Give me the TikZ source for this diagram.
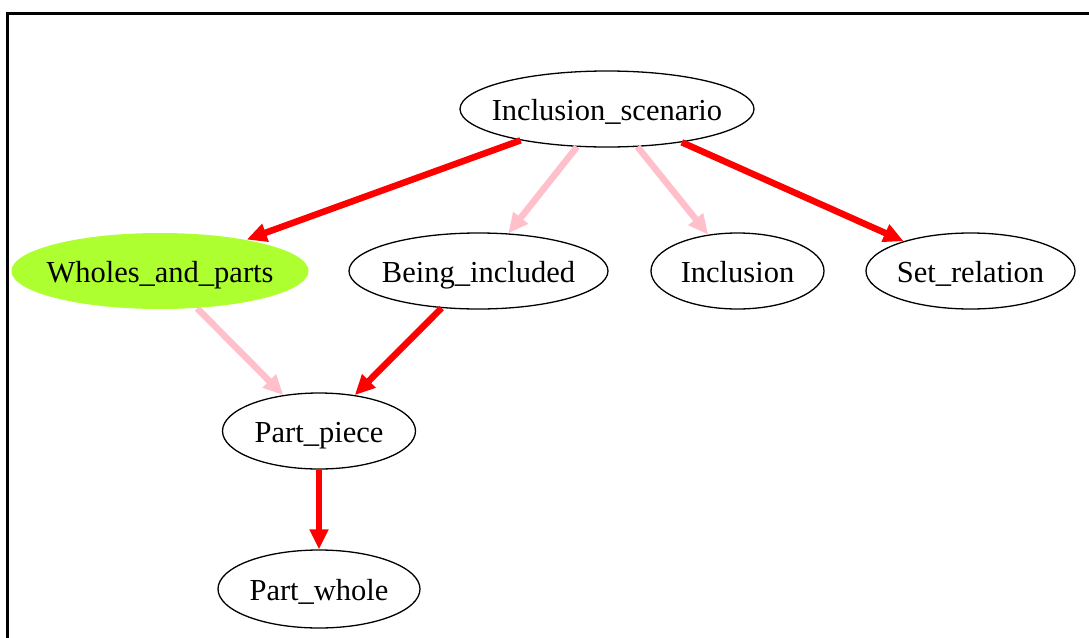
\documentclass[tikz,border=0pt]{standalone}
\usepackage{fontspec}
\setmainfont{Liberation Serif}
\usetikzlibrary{shapes.geometric,arrows.meta}
\definecolor{gyellow}{HTML}{ADFF2F}
\definecolor{lpink}{HTML}{FFC0CB}
\newcommand\nlab[1]{\raisebox{-11.5pt}[0pt][0pt]{\makebox[0pt][c]{#1}}}
\tikzset{
  nd/.style={ellipse, draw=black, line width=1.3pt, inner sep=0pt, font=\fontsize{30.5}{33}\selectfont},
  strong/.style={draw=red, line width=6.5pt, -{Triangle[length=20pt,width=18pt]}},
  weak/.style={draw=lpink, line width=6.5pt, -{Triangle[length=20pt,width=18pt]}},
}
\begin{document}
\begin{tikzpicture}[x=1pt,y=-1pt]
\useasboundingbox (0,0) rectangle (1089,637);
\fill[white] (0,0) rectangle (1089,637);
\draw[line width=2.2pt] (7.5,660) -- (7.5,13.5) -- (1100,13.5);
\node[nd, minimum width=294pt, minimum height=76pt] (scen) at (607,109) {\nlab{Inclusion\_scenario}};
\node[nd, draw=none, fill=gyellow, minimum width=297pt, minimum height=76pt] (whole) at (160,271) {\nlab{Wholes\_and\_parts}};
\node[nd, minimum width=259pt, minimum height=76pt] (being) at (478.5,271) {\nlab{Being\_included}};
\node[nd, minimum width=173pt, minimum height=76pt] (incl) at (737.5,271) {\nlab{Inclusion}};
\node[nd, minimum width=209pt, minimum height=76pt] (setr) at (970.5,271) {\nlab{Set\_relation}};
\node[nd, minimum width=193pt, minimum height=76pt] (piece) at (319,431) {\nlab{Part\_piece}};
\node[nd, minimum width=202pt, minimum height=78pt] (pw) at (319,589) {\nlab{Part\_whole}};
\draw[strong] (scen) -- (whole);
\draw[weak] (scen) -- (being);
\draw[weak] (scen) -- (incl);
\draw[strong] (scen) -- (setr);
\draw[weak] (whole) -- (piece);
\draw[strong] (being) -- (piece);
\draw[strong] (piece) -- (pw);
\end{tikzpicture}
\end{document}
